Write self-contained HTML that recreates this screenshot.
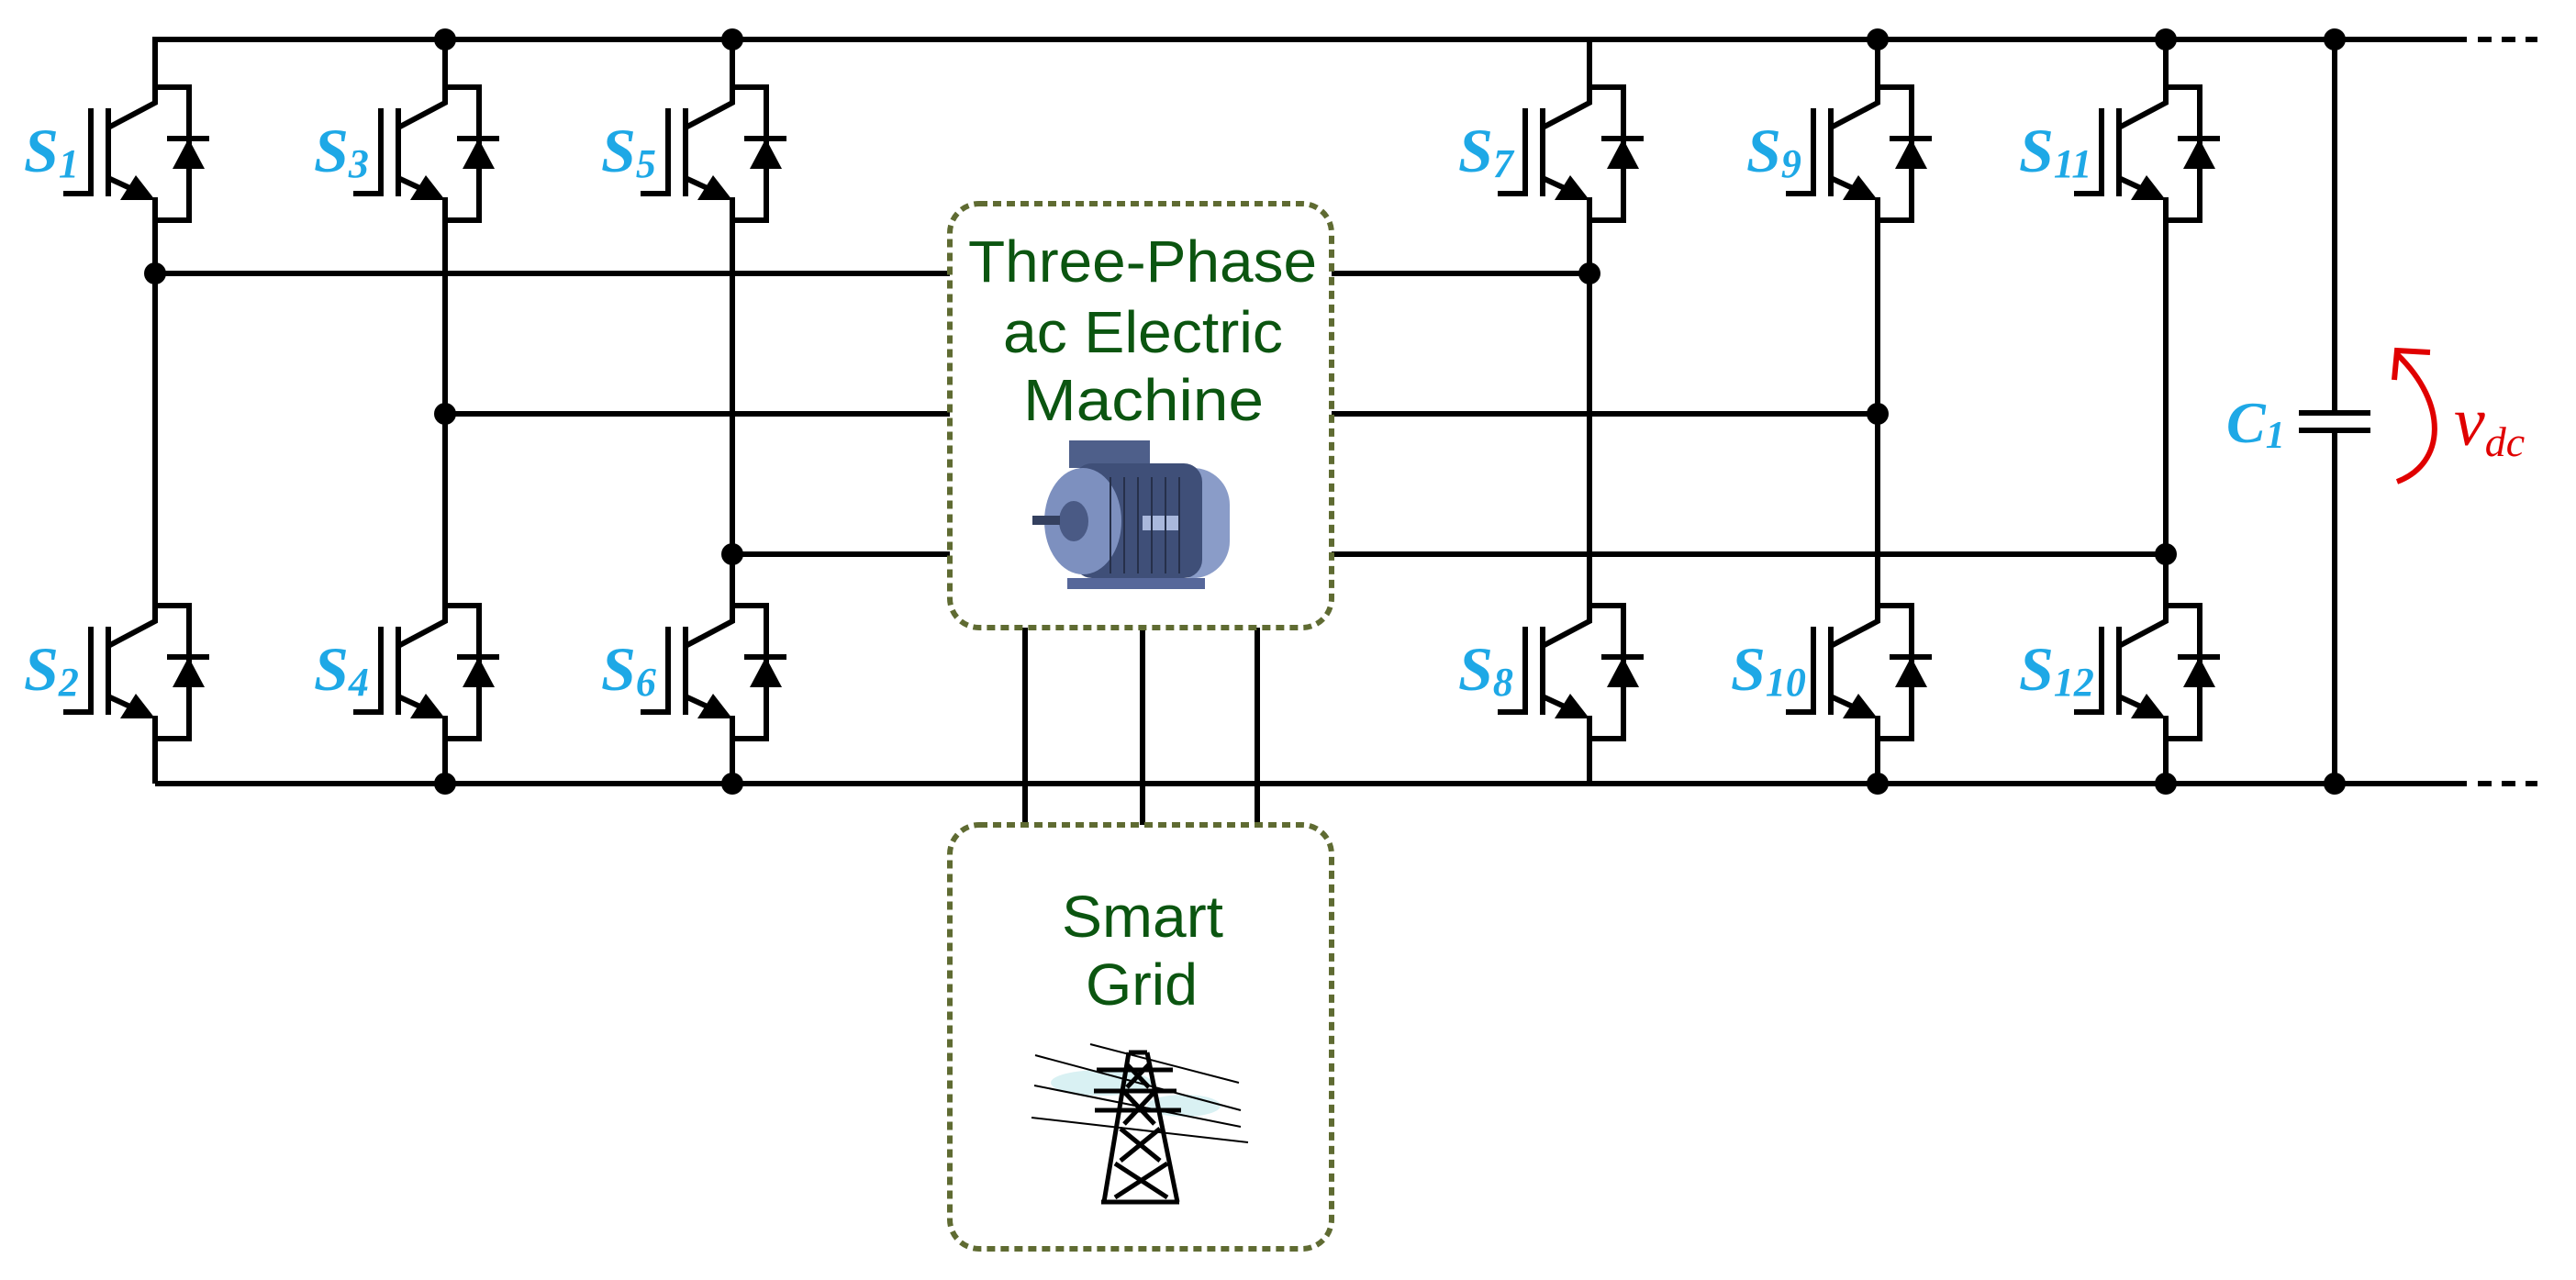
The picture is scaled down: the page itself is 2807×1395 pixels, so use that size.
<!DOCTYPE html>
<html><head><meta charset="utf-8"><style>
html,body{margin:0;padding:0;background:#fff;}
svg{display:block;}
.lbl{font-family:"Liberation Serif",serif;font-style:italic;font-weight:bold;fill:#1ea8e6;}
.box{font-family:"Liberation Sans",sans-serif;fill:#0b5510;}
</style></head><body>
<svg width="2807" height="1395" viewBox="0 0 2807 1395" xmlns="http://www.w3.org/2000/svg">
<defs>
<g id="ig" stroke="#000" stroke-width="6" fill="none" stroke-linecap="square">
  <path d="M0,0 V69 L-49,95"/>
  <path d="M-51,78 V168"/>
  <path d="M-70,78 V168 H-97"/>
  <path d="M-49,152 L-10,170"/>
  <polygon points="-38,175 0,175 -21,148" fill="#000" stroke="none"/>
  <path d="M0,175 V200"/>
  <path d="M0,52 H37 V197 H0"/>
  <path d="M16,108 H56"/>
  <polygon points="19,141 54,141 36.5,108" fill="#000" stroke="none"/>
</g>
</defs>
<g stroke="#000" stroke-width="6" fill="none">
  <path d="M169,43 H2688"/>
  <path d="M169,854 H2688"/>
  <path d="M2700,43 H2715 M2726,43 H2741 M2752,43 H2765" />
  <path d="M2700,854 H2715 M2726,854 H2741 M2752,854 H2765" />
  <path d="M169,218 V608 M169,783 V854"/>
  <path d="M485,218 V608 M485,783 V854"/>
  <path d="M798,218 V608 M798,783 V854"/>
  <path d="M1732,218 V608 M1732,783 V854"/>
  <path d="M2046,218 V608 M2046,783 V854"/>
  <path d="M2360,218 V608 M2360,783 V854"/>
  <path d="M169,298 H1035 M1451,298 H1732"/>
  <path d="M485,451 H1035 M1451,451 H2046"/>
  <path d="M798,604 H1035 M1451,604 H2360"/>
  <path d="M1117,684 V899 M1245,684 V899 M1370,684 V899"/>
  <path d="M2544,43 V450 M2544,469 V854"/>
  <path d="M2505,450 H2583 M2505,469 H2583"/>
</g>
<use href="#ig" x="169" y="43"/><use href="#ig" x="169" y="608"/>
<use href="#ig" x="485" y="43"/><use href="#ig" x="485" y="608"/>
<use href="#ig" x="798" y="43"/><use href="#ig" x="798" y="608"/>
<use href="#ig" x="1732" y="43"/><use href="#ig" x="1732" y="608"/>
<use href="#ig" x="2046" y="43"/><use href="#ig" x="2046" y="608"/>
<use href="#ig" x="2360" y="43"/><use href="#ig" x="2360" y="608"/>
<g fill="#000">
  <circle cx="485" cy="43" r="12"/><circle cx="798" cy="43" r="12"/>
  <circle cx="2046" cy="43" r="12"/><circle cx="2360" cy="43" r="12"/><circle cx="2544" cy="43" r="12"/>
  <circle cx="485" cy="854" r="12"/><circle cx="798" cy="854" r="12"/>
  <circle cx="2046" cy="854" r="12"/><circle cx="2360" cy="854" r="12"/><circle cx="2544" cy="854" r="12"/>
  <circle cx="169" cy="298" r="12"/><circle cx="485" cy="451" r="12"/><circle cx="798" cy="604" r="12"/>
  <circle cx="1732" cy="298" r="12"/><circle cx="2046" cy="451" r="12"/><circle cx="2360" cy="604" r="12"/>
</g>
<rect x="1035" y="222" width="416" height="462" rx="32" fill="#fff" stroke="#5f6b32" stroke-width="6" stroke-dasharray="9,6"/>
<rect x="1035" y="899" width="416" height="462" rx="32" fill="#fff" stroke="#5f6b32" stroke-width="6" stroke-dasharray="9,6"/>
<g class="box" font-size="64">
  <text x="1055" y="307" textLength="380" lengthAdjust="spacingAndGlyphs">Three-Phase</text>
  <text x="1093" y="384" textLength="305" lengthAdjust="spacingAndGlyphs">ac Electric</text>
  <text x="1115" y="458" textLength="262" lengthAdjust="spacingAndGlyphs">Machine</text>
  <text x="1157" y="1021" textLength="176" lengthAdjust="spacingAndGlyphs">Smart</text>
  <text x="1183" y="1095" textLength="122" lengthAdjust="spacingAndGlyphs">Grid</text>
</g>
<g>
  <rect x="1165" y="480" width="88" height="30" fill="#4e5f8a"/>
  <rect x="1260" y="510" width="80" height="120" rx="40" fill="#8a9cc8"/>
  <rect x="1170" y="505" width="140" height="125" rx="20" fill="#3f4f78"/>
  <ellipse cx="1180" cy="568" rx="42" ry="58" fill="#7d90bf"/>
  <ellipse cx="1170" cy="568" rx="16" ry="22" fill="#4a5a85"/>
  <rect x="1125" y="562" width="30" height="10" fill="#34405f"/>
  <rect x="1245" y="562" width="40" height="16" fill="#a9b8dc"/>
  <rect x="1163" y="630" width="150" height="12" fill="#56679a"/>
  <g stroke="#26304a" stroke-width="2"><path d="M1210,520 V625 M1225,520 V625 M1240,520 V625 M1255,520 V625 M1270,520 V625 M1285,520 V625"/></g>
</g>
<g>
  <ellipse cx="1200" cy="1180" rx="55" ry="14" fill="#cfeef0" opacity="0.8"/>
  <ellipse cx="1290" cy="1205" rx="40" ry="12" fill="#cfeef0" opacity="0.8"/>
  <g stroke="#000" stroke-width="2" fill="none">
    <path d="M1128,1150 L1352,1210 M1127,1183 L1352,1228 M1124,1218 L1360,1245 M1188,1138 L1350,1180"/>
  </g>
  <g stroke="#000" stroke-width="5" fill="none">
    <path d="M1230,1147 L1203,1310 M1250,1147 L1283,1310 M1200,1310 H1285"/>
    <path d="M1230,1147 H1250 M1195,1166 H1278 M1192,1189 H1282 M1193,1210 H1287"/>
    <path d="M1228,1160 L1252,1185 M1252,1160 L1228,1185 M1225,1190 L1258,1225 M1258,1190 L1225,1225 M1221,1230 L1264,1265 M1264,1230 L1221,1265 M1215,1268 L1272,1305 M1272,1268 L1215,1305"/>
  </g>
</g>
<path d="M2612,525 C2665,505 2668,440 2612,386" stroke="#e00000" stroke-width="6" fill="none"/>
<path d="M2609,414 L2612,382 L2648,384" stroke="#e00000" stroke-width="6" fill="none"/>
<text x="2674" y="485" font-family="Liberation Serif,serif" font-style="italic" font-size="76" fill="#e00000">v<tspan font-size="46" dy="12">dc</tspan></text>
<g class="lbl" font-size="68">
  <text x="26" y="187">S<tspan font-size="44" dy="6">1</tspan></text>
  <text x="342" y="187">S<tspan font-size="44" dy="6">3</tspan></text>
  <text x="655" y="187">S<tspan font-size="44" dy="6">5</tspan></text>
  <text x="1589" y="187">S<tspan font-size="44" dy="6">7</tspan></text>
  <text x="1903" y="187">S<tspan font-size="44" dy="6">9</tspan></text>
  <text x="2200" y="187">S<tspan font-size="44" dy="6">11</tspan></text>
  <text x="26" y="752">S<tspan font-size="44" dy="6">2</tspan></text>
  <text x="342" y="752">S<tspan font-size="44" dy="6">4</tspan></text>
  <text x="655" y="752">S<tspan font-size="44" dy="6">6</tspan></text>
  <text x="1589" y="752">S<tspan font-size="44" dy="6">8</tspan></text>
  <text x="1886" y="752">S<tspan font-size="44" dy="6">10</tspan></text>
  <text x="2200" y="752">S<tspan font-size="44" dy="6">12</tspan></text>
  <text x="2426" y="482" font-size="64">C<tspan font-size="42" dy="6">1</tspan></text>
</g>
</svg>
</body></html>
